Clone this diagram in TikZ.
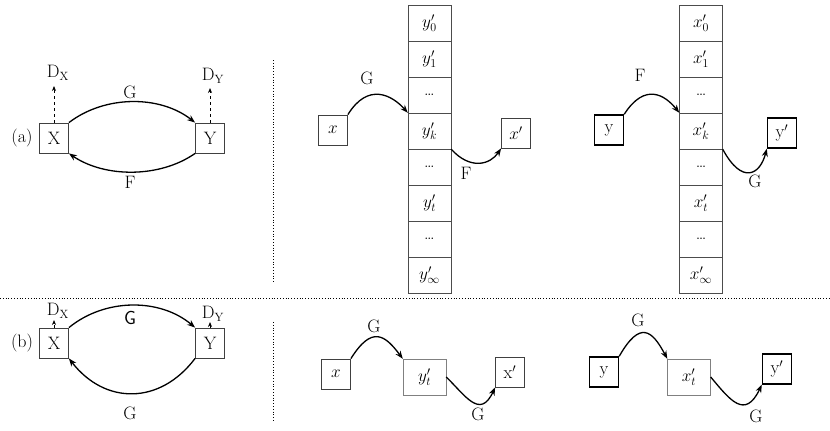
\documentclass[tikz,border=0pt]{standalone}
\usetikzlibrary{arrows.meta}
\begin{document}
\begin{tikzpicture}[x=1pt,y=-1pt,
 fnt/.style={font=\fontsize{18}{21}\selectfont},
 bx/.style={draw=black!75,thick,minimum width=29pt,minimum height=30pt,inner sep=0pt,fnt},
 tbx/.style={bx,draw=black,line width=1.4pt},
 cell/.style={draw=black!70,minimum width=43pt,minimum height=36pt,inner sep=0pt,fnt},
 arr/.style={line width=1.3pt,-{Stealth[length=8pt,width=6pt]}},
 darr/.style={dashed,thick,-{Stealth[length=5pt,width=4pt]}},
 lab/.style={fnt},
 dots/.style={dotted,thick}]
\useasboundingbox (0,0) rectangle (830,431);
% ---------- (a) left
\node[lab] (la) at (22,138) {(a)};
\node[bx] (X) at (54,138) {X};
\node[bx] (Y) at (210,138) {Y};
\coordinate (dx) at (54,86); \coordinate (dy) at (210,88);
\draw[darr] (X.north) -- (dx);
\draw[darr] (Y.north) -- (dy);
\node[lab] (DX) at (58,73) {D$_{\mathrm X}$};
\node[lab] (DY) at (213,76) {D$_{\mathrm Y}$};
\draw[arr] (X.north east) .. controls (105,95) and (160,95) .. (Y.north west);
\draw[arr] (Y.south west) .. controls (160,178) and (105,178) .. (X.south east);
\node[lab] (Ga) at (130,92) {G};
\node[lab] (Fa) at (130,182) {F};
\draw[dots] (273,60) -- (273,282);
\draw[dots] (0,298) -- (830,298);
\draw[dots] (273,322) -- (273,422);
% ---------- column 1
\foreach \t [count=\i from 0] in {$y'_0$,$y'_1$,\dots,$y'_k$,\dots,$y'_t$,\dots,$y'_\infty$}
  \node[cell] (c\i) at (429.5,{23+36*\i}) {\t};
\node[bx] (x1) at (333,130) {$x$};
\node[bx] (xp1) at (516,133) {$x'$};
\draw[arr] (x1.north east) .. controls (368,82) and (392,95) .. (c3.north west);
\draw[arr] (c3.south east) .. controls (470,170) and (490,165) .. (xp1.south west);
\node[lab] (G1) at (367,78) {G};
\node[lab] (F1) at (466,173) {F};
% ---------- column 2
\foreach \t [count=\i from 0] in {$x'_0$,$x'_1$,\dots,$x'_k$,\dots,$x'_t$,\dots,$x'_\infty$}
  \node[cell] (d\i) at (701,{23+36*\i}) {\t};
\node[tbx] (y2) at (609,130) {y};
\node[tbx] (yp2) at (782,133) {y$'$};
\draw[arr] (y2.north east) .. controls (645,82) and (665,95) .. (d3.north west);
\draw[arr] (d3.south east) .. controls (742,185) and (760,175) .. (yp2.south west);
\node[lab] (F2) at (640,75) {F};
\node[lab] (G2) at (755,181) {G};
% ---------- (b) left
\node[lab] (lb) at (22,343) {(b)};
\node[bx] (Xb) at (54,343) {X};
\node[bx] (Yb) at (210,343) {Y};
\coordinate (dxb) at (54,320); \coordinate (dyb) at (210,322);
\draw[darr] (Xb.north) -- (dxb);
\draw[darr] (Yb.north) -- (dyb);
\node[lab] (DXb) at (58,311) {D$_{\mathrm X}$};
\node[lab] (DYb) at (213,314) {D$_{\mathrm Y}$};
\draw[arr] (Xb.north east) .. controls (105,298) and (160,298) .. (Yb.north west);
\draw[arr] (Yb.south west) .. controls (160,405) and (105,405) .. (Xb.south east);
\node[lab,font=\fontsize{19}{22}\selectfont\sffamily] (Gb) at (130,318) {G};
\node[lab] (Gb2) at (130,413) {G};
% ---------- (b) middle
\node[bx] (xb) at (336,374) {$x$};
\node[cell,draw=black!50] (yt) at (424.5,377) {$y'_t$};
\node[bx] (xpb) at (510,372) {x$'$};
\draw[arr] (xb.north east) .. controls (372,325) and (385,335) .. (yt.north west);
\draw[arr] (yt.east) .. controls (465,395) and (480,420) .. (xpb.south west);
\node[lab] (G3) at (374,326) {G};
\node[lab] (G4) at (478,414) {G};
% ---------- (b) right
\node[tbx] (yb) at (604,372) {y};
\node[cell,draw=black!50] (xt) at (689,377) {$x'_t$};
\node[tbx] (ypb) at (777,369) {y$'$};
\draw[arr] (yb.north east) .. controls (640,320) and (652,330) .. (xt.north west);
\draw[arr] (xt.east) .. controls (730,400) and (745,420) .. (ypb.south west);
\node[lab] (G5) at (638,320) {G};
\node[lab] (G6) at (756,416) {G};
\end{tikzpicture}
\end{document}
